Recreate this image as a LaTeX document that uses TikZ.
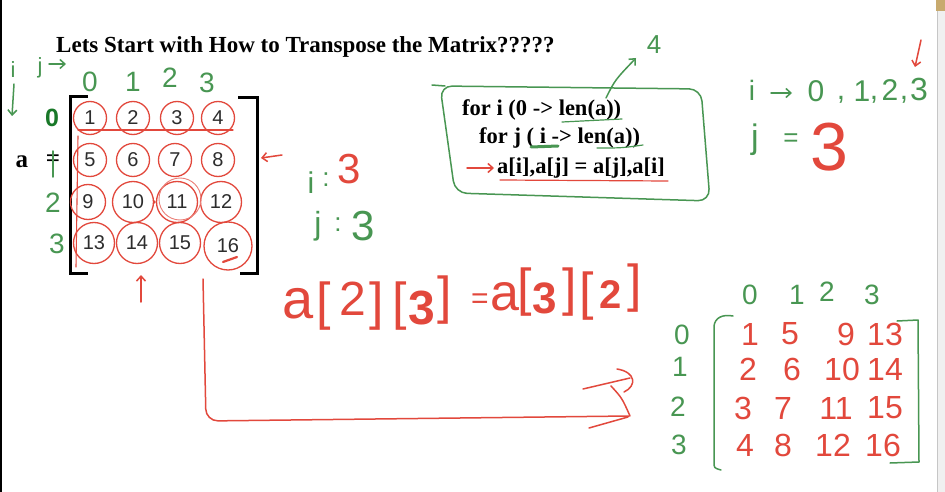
\documentclass[tikz,border=0pt]{standalone}
\usepackage{fontspec}
\setmainfont{Liberation Serif}
\newfontfamily\hwfont{Liberation Sans}
\usetikzlibrary{arrows.meta}
\definecolor{inkred}{RGB}{226,72,60}
\definecolor{inkgreen}{RGB}{72,150,82}
\definecolor{inkdkgreen}{RGB}{25,120,40}
\definecolor{cellgray}{RGB}{45,45,45}
\definecolor{tabtan}{RGB}{200,170,110}
\newcommand\fs[1]{\fontsize{#1}{#1}\selectfont}
\begin{document}
\begin{tikzpicture}[x=1pt,y=-1pt,
  hw/.style={font=\hwfont, inner sep=0pt},
  gtxt/.style={inner sep=0pt, text=inkgreen},
  rtxt/.style={inner sep=0pt, text=inkred},
  pen/.style={line width=1.5pt, line cap=round, line join=round},
  rpen/.style={pen, draw=inkred},
  gpen/.style={pen, draw=inkgreen},
  barb/.style={-{Straight Barb[length=5pt,width=9pt]}},
  cell/.style={circle, draw=inkred, line width=1.3pt, inner sep=0pt, minimum size=33pt, font=\hwfont\fs{20}, text=cellgray},
  wcell/.style={cell, minimum size=41pt},
  codeline/.style={font=\bfseries\fs{22.5}, inner sep=0pt, anchor=base west},
  bracket/.style={line width=3pt, draw=black},
]
\path[use as bounding box] (0,0) rectangle (945,492);
\fill[white] (0,0) rectangle (945,492);
% frame edges
\fill[black] (0,0) rectangle (2,492);
\fill[gray!12] (937,0) rectangle (945,492);
\draw[gray!45, line width=0.8pt] (937.5,0) -- (937.5,492);
\fill[tabtan] (936,0) rectangle (945,11);

% title
\node[font=\bfseries\fs{23}, inner sep=0pt, anchor=base west] (title) at (56,53) {Lets Start with How to Transpose the Matrix?????};

% ---------- original matrix a ----------
\node[gtxt, font=\hwfont\fs{22}] (ilab) at (13,70) {i};
\node[gtxt, font=\hwfont\fs{22}] (jlab) at (40,68) {j};
\coordinate (jarrS) at (49,64);
\coordinate (jarrE) at (66,64);
\draw[gpen, barb] (jarrS) -- (jarrE);
\coordinate (iarrS) at (14,84);
\coordinate (iarrE) at (12,116);
\draw[gpen, barb] (iarrS) -- (iarrE);

\node[gtxt, font=\hwfont\fs{28}] (c0) at (90,82) {0};
\node[gtxt, font=\hwfont\fs{28}] (c1) at (133,82) {1};
\node[gtxt, font=\hwfont\fs{28}] (c2) at (170,78) {2};
\node[gtxt, font=\hwfont\fs{28}] (c3) at (207,83) {3};

\node[inner sep=0pt, text=inkdkgreen, font=\hwfont\bfseries\fs{25}] (r0) at (52,118) {0};
\node[inner sep=0pt, font=\bfseries\fs{25}] (aname) at (22,162) {a};
\node[inner sep=0pt, font=\bfseries\fs{25}] (aeq) at (53,161) {=};
\coordinate (r1a) at (53,151);
\coordinate (r1b) at (53,177);
\draw[gpen] (r1a) -- (r1b);
\node[gtxt, font=\hwfont\fs{28}] (r2) at (53,203) {2};
\node[gtxt, font=\hwfont\fs{28}] (r3) at (57,244) {3};

% brackets
\draw[bracket] (88,97) -- (70,97) -- (70,273) -- (88,273);
\draw[bracket] (238,98) -- (257,98) -- (257,273) -- (240,273);

% cells
\node[cell] (m1) at (90,118) {1};
\node[cell] (m2) at (133,118) {2};
\node[cell] (m3) at (177,118) {3};
\node[cell] (m4) at (218,118) {4};
\node[cell] (m5) at (90,160) {5};
\node[cell] (m6) at (133,160) {6};
\node[cell] (m7) at (175,160) {7};
\node[cell] (m8) at (218,160) {8};
\node[cell, minimum size=35pt] (m9) at (88,202) {9};
\node[wcell] (m10) at (133,202) {10};
\node[wcell] (m11) at (177,202) {11};
\node[wcell] (m12) at (221,202) {12};
\node[wcell] (m13) at (94,243) {13};
\node[wcell] (m14) at (137,243) {14};
\node[wcell] (m15) at (180,243) {15};
\node[cell, minimum size=48pt] (m16) at (228,246) {16};
\draw[inkred!70, line width=0.9pt] (180,199) circle (21pt);
\draw[rpen, line width=2.2pt] (223,262) -- (237,257);
\draw[rpen, line width=1pt, -{Straight Barb[length=2pt,width=4pt]}] (m10.east) -- (m11.west);
% red strike lines
\coordinate (hs) at (78,130);
\coordinate (he) at (233,130);
\draw[rpen, line width=1.1pt] (hs) -- (he);
\coordinate (vs) at (78,136);
\coordinate (ve) at (76,267);
\draw[rpen, line width=1.1pt] (vs) -- (ve);

% red arrows near matrix
\coordinate (la1) at (282,155);
\coordinate (la2) at (261,158);
\draw[rpen, barb] (la1) -- (la2);
\coordinate (ua1) at (141,302);
\coordinate (ua2) at (141,275);
\draw[rpen, barb] (ua1) -- (ua2);

% i:3 j:3
\node[gtxt, font=\hwfont\fs{30}] (mi) at (311,183) {i};
\node[gtxt, font=\hwfont\fs{26}] (mic) at (326,180) {:};
\node[rtxt, font=\hwfont\fs{42}] (mi3) at (349,169) {3};
\node[gtxt, font=\hwfont\fs{32}] (mj) at (318,226) {j};
\node[gtxt, font=\hwfont\fs{26}] (mjc) at (338,225) {:};
\node[gtxt, font=\hwfont\fs{42}] (mj3) at (363,226) {3};

% ---------- code box ----------
\draw[gpen, rounded corners=12pt] (440,86) -- (701,89) -- (710,201) -- (455,193) -- cycle;
\draw[gpen] (432,85) -- (445,86);
\node[codeline] (code1) at (462,116) {for i (0 -> len(a))};
\node[codeline] (code2) at (479,143) {for j ( i -> len(a))};
\node[codeline] (code3) at (497,173) {a[i],a[j] = a[j],a[i]};
\coordinate (ca1) at (467,168);
\coordinate (ca2) at (494,168);
\draw[rpen, barb] (ca1) -- (ca2);
\draw[rpen, line width=1.2pt] (500,180) -- (668,181);
\draw[gpen, line width=1.2pt] (562,122) .. controls (592,120) .. (622,119);
\draw[gpen, line width=3pt] (531,147) -- (558,146);
\draw[gpen, line width=1.2pt] (597,148) .. controls (622,148) .. (643,145);
\coordinate (ga1) at (606,98);
\coordinate (ga2) at (636,58);
\draw[gpen, barb] (ga1) .. controls (615,80) .. (ga2);
\node[gtxt, font=\hwfont\fs{26}] (four) at (654,45) {4};

% ---------- top right ----------
\node[gtxt, font=\hwfont\fs{28}] (ti) at (752,90) {i};
\coordinate (ta1) at (771,93);
\coordinate (ta2) at (792,93);
\draw[gpen, barb] (ta1) -- (ta2);
\node[gtxt, font=\hwfont\fs{30}] (ts0) at (816,91) {0};
\node[gtxt, font=\hwfont\fs{30}] (tk1) at (841,100) {,};
\node[gtxt, font=\hwfont\fs{30}] (ts1) at (862,91) {1};
\node[gtxt, font=\hwfont\fs{30}] (tk2) at (874,100) {,};
\node[gtxt, font=\hwfont\fs{30}] (ts2) at (890,90) {2};
\node[gtxt, font=\hwfont\fs{30}] (tk3) at (904,100) {,};
\node[gtxt, font=\hwfont\fs{32}] (ts3) at (919,89) {3};
\coordinate (tr1) at (921,40);
\coordinate (tr2) at (915,67);
\draw[rpen, barb] (tr1) -- (tr2);
\node[gtxt, font=\hwfont\fs{34}] (tj) at (755,140) {j};
\node[gtxt, font=\hwfont\fs{26}] (teq) at (791,140) {=};
\node[rtxt, font=\hwfont\fs{68}] (tj3) at (829,147) {3};

% ---------- equation ----------
\node[rtxt, font=\hwfont\fs{56}] (e1) at (298,304) {a};
\node[rtxt, font=\hwfont\fs{52}] (e2) at (324,306) {[};
\node[rtxt, font=\hwfont\fs{48}] (e3) at (353,299) {2};
\node[rtxt, font=\hwfont\fs{52}] (e4) at (377,306) {]};
\node[rtxt, font=\hwfont\fs{52}] (e5) at (400,306) {[};
\node[rtxt, font=\hwfont\bfseries\fs{48}] (e6) at (422,308) {3};
\node[rtxt, font=\hwfont\fs{52}] (e7) at (445,300) {]};
\node[rtxt, font=\hwfont\fs{30}] (e8) at (480,301) {=};
\node[rtxt, font=\hwfont\fs{52}] (e9) at (505,297) {a};
\node[rtxt, font=\hwfont\fs{52}] (e10) at (525,292) {[};
\node[rtxt, font=\hwfont\bfseries\fs{44}] (e11) at (545,298) {3};
\node[rtxt, font=\hwfont\fs{52}] (e12) at (570,292) {]};
\node[rtxt, font=\hwfont\fs{52}] (e13) at (587,296) {[};
\node[rtxt, font=\hwfont\bfseries\fs{40}] (e14) at (611,295) {2};
\node[rtxt, font=\hwfont\fs{52}] (e15) at (635,288) {]};

% ---------- L connector ----------
\coordinate (Ls) at (203,279);
\coordinate (Lc) at (206,421);
\coordinate (Le) at (629,416);
\draw[rpen, rounded corners=12pt] (Ls) -- (Lc) -- (Le);
\draw[rpen] (583,389) -- (630,378);
\draw[rpen] (617,369) .. controls (636,372) and (637,386) .. (624,392);
\draw[rpen] (611,386) .. controls (622,398) .. (630,416);
\draw[rpen] (589,428) -- (628,417);

% ---------- transposed matrix ----------
\foreach \t/\x/\y [count=\k] in {0/750/295, 1/797/295, 2/827/292, 3/872/295} {
  \node[gtxt, font=\hwfont\fs{28}] (tc\k) at (\x,\y) {\t};
}
\foreach \t/\x/\y [count=\k] in {0/682/335, 1/680/367, 2/678/407, 3/679/445} {
  \node[gtxt, font=\hwfont\fs{28}] (tr\k) at (\x,\y) {\t};
}
\draw[gpen] (733,316) .. controls (722,314) and (715,318) .. (714,326) -- (714,462) .. controls (714,468) .. (721,470);
\draw[gpen] (897,321) -- (918,320) -- (919,462) -- (890,463);
\foreach \t/\x/\y [count=\k] in {
  1/750/334, 5/790/334, 9/846/334, 13/885/334,
  2/748/369, 6/792/369, 10/842/369, 14/885/369,
  3/743/408, 7/783/408, 11/836/408, 15/885/408,
  4/745/445, 8/783/445, 12/833/445, 16/883/445} {
  \node[rtxt, font=\hwfont\fs{32}] (te\k) at (\x,\y) {\t};
}
\end{tikzpicture}
\end{document}
